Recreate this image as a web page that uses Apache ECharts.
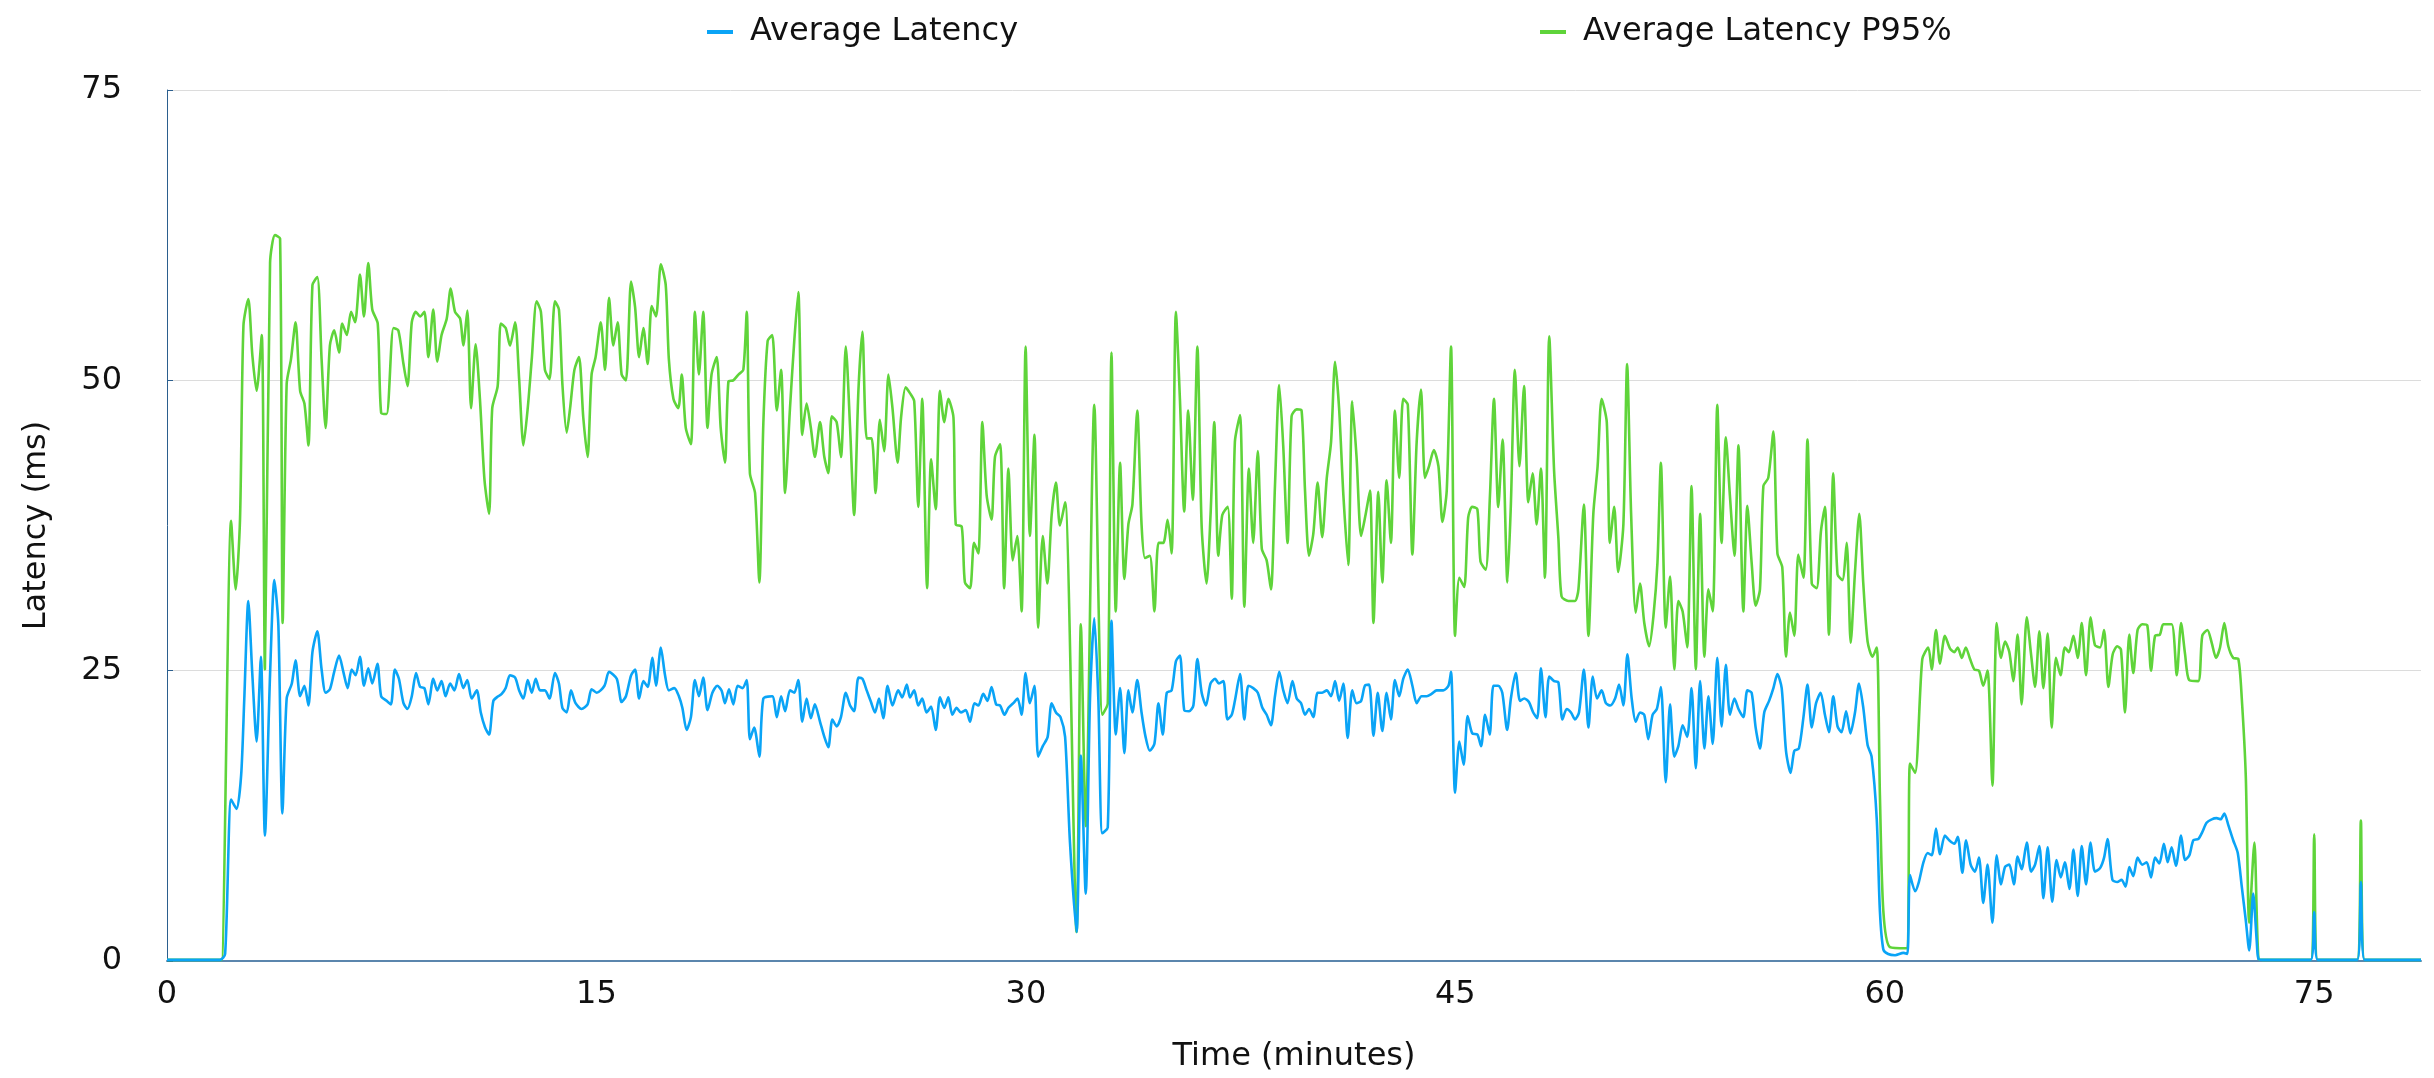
<!DOCTYPE html>
<html>
<head>
<meta charset="utf-8">
<title>Average Latency</title>
<script src="https://cdn.jsdelivr.net/npm/echarts@6/dist/echarts.min.js"></script>
<style>
  html, body { margin: 0; padding: 0; background: #ffffff; }
  #chart { width: 2434px; height: 1078px; }
</style>
</head>
<body>
<div id="chart"></div>
<script>
// Elapsed test time in minutes and latency in milliseconds.
const avgMinutes = [
  0, 1.85, 2.03, 2.24, 2.43, 2.59, 2.70, 2.84, 2.98, 3.13, 3.28, 3.42, 3.60, 3.75, 3.89, 4.03, 4.18, 4.36, 4.49, 4.65,
  4.80, 4.94, 5.08, 5.25, 5.40, 5.54, 5.69, 5.84, 6.01, 6.16, 6.31, 6.45, 6.59, 6.74, 6.88, 7.03, 7.17, 7.35, 7.48, 7.67,
  7.82, 7.96, 8.10, 8.26, 8.40, 8.55, 8.70, 8.84, 8.99, 9.13, 9.30, 9.44, 9.59, 9.73, 9.89, 10.04, 10.20, 10.35, 10.49, 10.64,
  10.82, 10.96, 11.11, 11.25, 11.40, 11.57, 11.69, 11.83, 11.98, 12.16, 12.30, 12.45, 12.60, 12.74, 12.88, 13.03, 13.20, 13.36,
  13.55, 13.69, 13.81, 13.96, 14.11, 14.27, 14.48, 14.69, 14.83, 15.01, 15.28, 15.44, 15.71, 15.88, 16.03, 16.21, 16.35, 16.49,
  16.64, 16.79, 16.95, 17.08, 17.25, 17.39, 17.53, 17.72, 17.88, 18.00, 18.15, 18.30, 18.44, 18.58, 18.73, 18.88, 19.05, 19.22,
  19.37, 19.49, 19.63, 19.78, 19.93, 20.10, 20.25, 20.36, 20.51, 20.69, 20.83, 21.14, 21.30, 21.45, 21.59, 21.76, 21.91, 22.05,
  22.19, 22.34, 22.49, 22.63, 22.81, 22.96, 23.10, 23.24, 23.39, 23.54, 23.71, 23.86, 24.00, 24.15, 24.29, 24.44, 24.59, 24.73,
  24.87, 25.02, 25.17, 25.34,
  25.54, 25.68, 25.84, 25.95, 26.10, 26.24, 26.38, 26.53, 26.69, 26.85, 27.00, 27.15, 27.29, 27.43, 27.58, 27.73, 27.90, 28.05,
  28.20, 28.34, 28.51, 28.66, 28.80, 28.96, 29.10, 29.25, 29.39, 29.56, 29.71, 29.85, 29.99, 30.14, 30.30, 30.43, 30.59, 30.76,
  30.90, 31.05, 31.21, 31.37, 31.54, 31.77, 31.92, 32.09, 32.24, 32.39, 32.53, 32.67, 32.86, 32.99, 33.14, 33.29, 33.44, 33.58,
  33.72, 33.89, 34.04, 34.18, 34.33, 34.49, 34.63, 34.78, 34.92, 35.09, 35.24, 35.38, 35.53, 35.70, 35.85, 35.99, 36.14, 36.29,
  36.45, 36.61, 36.74, 36.90, 37.04, 37.19,
  37.30, 37.48, 37.63, 37.77, 37.94, 38.10, 38.26, 38.41, 38.56, 38.70, 38.85, 38.99, 39.14, 39.31, 39.46, 39.61, 39.75, 39.89,
  40.04, 40.19, 40.35, 40.51, 40.66, 40.80, 40.94, 41.09, 41.24, 41.40, 41.55, 41.71, 41.84, 41.99, 42.14, 42.29, 42.45, 42.60,
  42.75, 42.89, 43.04, 43.18, 43.34, 43.50, 43.65, 43.82, 44.00, 44.17, 44.35, 44.58, 44.76, 44.85, 44.99, 45.14, 45.29, 45.43,
  45.59, 45.77, 45.90, 46.04, 46.20, 46.33, 46.50, 46.64, 46.81, 46.94, 47.11, 47.26, 47.41, 47.57, 47.72, 47.86, 47.99, 48.15,
  48.28, 48.45, 48.60, 48.74, 48.89, 49.04,
  49.18, 49.32, 49.49, 49.65, 49.80, 49.95, 50.11, 50.26, 50.41, 50.58, 50.72, 50.87, 51.01, 51.16, 51.30, 51.45, 51.60, 51.74,
  51.89, 52.04, 52.18, 52.35, 52.50, 52.65, 52.79, 52.94, 53.10, 53.25, 53.40, 53.55, 53.70, 53.84, 53.99, 54.15, 54.30, 54.45,
  54.59, 54.75, 54.89, 55.06, 55.20, 55.35, 55.49, 55.64, 55.79, 55.96, 56.11, 56.25, 56.40, 56.55, 56.71, 56.84, 57.00, 57.16,
  57.30, 57.45, 57.60, 57.76, 57.91, 58.05, 58.20, 58.35, 58.49, 58.65, 58.80, 58.96, 59.10, 59.25, 59.40, 59.54, 59.72, 59.83,
  59.95, 60.12, 60.36, 60.65, 60.79, 60.88, 61.06,
  61.19, 61.35, 61.50, 61.64, 61.79, 61.93, 62.10, 62.25, 62.43, 62.55, 62.71, 62.84, 63.00, 63.15, 63.29, 63.44, 63.59, 63.76,
  63.91, 64.06, 64.20, 64.35, 64.51, 64.64, 64.78, 64.96, 65.11, 65.25, 65.40, 65.54, 65.69, 65.85, 66.00, 66.15, 66.29, 66.45,
  66.59, 66.74, 66.88, 67.03, 67.19, 67.34, 67.52, 67.66, 67.78, 67.95, 68.12, 68.27, 68.41, 68.54, 68.68, 68.83, 68.99, 69.15,
  69.30, 69.44, 69.59, 69.75, 69.88, 70.02, 70.17, 70.35, 70.49, 70.64, 70.78, 70.95, 71.09, 71.24, 71.42, 71.59, 71.73, 71.86,
  72.00, 72.17, 72.33, 72.47, 72.61, 72.73, 72.87, 72.99, 73.05, 73.20,
  74.88, 75.00, 75.12, 76.50, 76.63, 76.76, 78.73
];
const avgLatency = [
  0.1, 0.1, 0.6, 13.9, 13.1, 16.0, 22.6, 31.0, 24.7, 18.9, 26.2, 10.8, 24.7, 32.8, 28.9, 12.7, 22.6, 23.9, 25.9, 22.8,
  23.7, 22.0, 26.6, 28.4, 25.1, 23.1, 23.4, 24.9, 26.3, 24.9, 23.5, 25.1, 24.6, 26.2, 23.7, 25.2, 23.9, 25.6, 22.8, 22.4,
  22.1, 25.1, 24.3, 22.2, 21.7, 22.8, 24.8, 23.6, 23.5, 22.1, 24.3, 23.3, 24.1, 22.8, 23.9, 23.3, 24.7, 23.5, 24.2, 22.6,
  23.3, 21.4, 20.1, 19.5, 22.4, 22.8, 23.0, 23.5, 24.6, 24.4, 23.3, 22.6, 24.2, 23.1, 24.3, 23.3, 23.3, 22.6,
  24.8, 23.9, 21.8, 21.4, 23.3, 22.2, 21.7, 22.1, 23.4, 23.1, 23.7, 24.9, 24.3, 22.3, 22.8, 24.6, 25.1, 22.6,
  24.1, 23.6, 26.1, 23.7, 27.0, 24.7, 23.3, 23.5, 22.8, 21.8, 19.9, 21.0, 24.2, 22.8, 24.4, 21.6, 23.1, 23.7,
  23.3, 22.2, 23.4, 22.1, 23.7, 23.5, 24.2, 19.1, 20.1, 17.6, 22.6, 22.8, 21.0, 22.8, 21.5, 23.3, 23.1, 24.2,
  20.6, 22.6, 20.9, 22.1, 20.6, 19.3, 18.4, 20.8, 20.2, 21.0, 23.1, 22.0, 21.5, 24.4, 24.3, 23.3, 22.3, 21.4,
  22.6, 20.9, 23.7, 22.0,
  23.3, 22.7, 23.8, 22.7, 23.3, 22.0, 22.6, 21.4, 21.9, 19.9, 22.7, 21.8, 22.7, 21.2, 21.8, 21.4, 21.6, 20.6,
  22.2, 22.0, 23.0, 22.4, 23.6, 22.1, 22.0, 21.2, 21.8, 22.2, 22.6, 21.2, 24.8, 22.2, 23.7, 17.6, 18.5, 19.3,
  22.2, 21.4, 21.0, 19.3, 10.2, 2.5, 17.7, 5.8, 22.6, 29.5, 22.6, 11.0, 11.5, 29.3, 19.5, 23.5, 17.9, 23.3,
  21.4, 24.2, 21.4, 19.3, 18.1, 18.7, 22.2, 19.5, 23.1, 23.3, 25.8, 26.3, 21.6, 21.5, 22.0, 26.0, 23.1, 22.0,
  23.9, 24.3, 23.9, 24.1, 20.8, 21.2,
  22.4, 24.7, 20.8, 23.7, 23.5, 23.1, 21.8, 21.2, 20.3, 22.8, 24.9, 23.3, 22.2, 24.1, 22.6, 22.2, 21.2, 21.7,
  21.0, 23.1, 23.1, 23.3, 22.8, 24.1, 22.4, 23.9, 19.2, 23.3, 22.2, 22.4, 23.7, 23.8, 19.4, 23.1, 19.8, 23.1,
  20.8, 24.2, 22.8, 24.3, 25.1, 23.7, 22.2, 22.8, 22.8, 23.0, 23.3, 23.3, 23.7, 24.9, 14.5, 18.9, 16.9, 21.1,
  19.6, 19.5, 18.5, 21.2, 19.5, 23.7, 23.7, 23.1, 19.9, 22.6, 24.8, 22.4, 22.6, 22.3, 21.4, 20.9, 25.2, 21.0,
  24.5, 24.1, 24.0, 20.8, 21.7, 21.4,
  20.8, 21.4, 25.1, 20.1, 24.5, 22.6, 23.3, 22.2, 22.0, 22.6, 23.8, 22.0, 26.4, 22.6, 20.6, 21.4, 21.2, 19.1,
  21.2, 21.7, 23.6, 15.4, 22.1, 17.6, 18.5, 20.3, 19.3, 23.5, 16.6, 24.1, 18.3, 22.8, 18.7, 26.1, 20.2, 25.5,
  21.2, 22.6, 21.7, 21.0, 23.3, 23.1, 20.1, 18.3, 21.4, 22.4, 23.5, 24.7, 23.5, 18.1, 16.2, 18.1, 18.3, 21.0,
  23.8, 20.1, 22.2, 23.1, 21.2, 19.7, 22.8, 20.2, 19.7, 21.5, 19.6, 21.4, 23.9, 21.8, 18.6, 17.6, 12.2, 4.3,
  1.0, 0.6, 0.5, 0.7, 0.6, 7.4, 6.0,
  6.8, 8.5, 9.3, 9.1, 11.4, 9.2, 10.8, 10.4, 10.1, 10.7, 7.6, 10.4, 8.3, 7.7, 8.9, 5.0, 8.3, 3.3,
  9.1, 6.6, 8.1, 8.3, 6.6, 9.0, 7.9, 10.2, 7.7, 8.3, 9.9, 5.4, 9.8, 5.1, 8.7, 7.2, 8.5, 6.2,
  9.6, 5.6, 9.9, 6.6, 10.2, 7.7, 8.0, 8.9, 10.5, 7.0, 6.8, 7.0, 6.4, 8.1, 7.3, 8.9, 8.3, 8.5,
  7.2, 8.9, 8.4, 10.1, 8.5, 9.8, 8.2, 10.8, 8.7, 9.1, 10.4, 10.5, 11.1, 11.9, 12.2, 12.3, 12.2, 12.7,
  11.7, 10.4, 9.3, 6.4, 3.5, 0.9, 5.8, 1.8, 0.2, 0.1,
  0.1, 4.2, 0.1, 0.1, 6.8, 0.1, 0.1
];

const p95Minutes = [
  0, 1.85, 1.91, 2.24, 2.40, 2.55, 2.67, 2.84, 2.98, 3.13, 3.31, 3.42, 3.60, 3.77, 3.95, 4.04, 4.18, 4.33, 4.49, 4.65,
  4.80, 4.94, 5.08, 5.25, 5.40, 5.54, 5.69, 5.84, 6.01, 6.12, 6.28, 6.43, 6.57, 6.74, 6.88, 7.03, 7.17, 7.36, 7.48, 7.67,
  7.91, 8.08, 8.26, 8.40, 8.55, 8.69, 8.84, 8.99, 9.13, 9.30, 9.44, 9.59, 9.77, 9.91, 10.06, 10.24, 10.35, 10.49, 10.62, 10.78,
  10.93, 11.09, 11.25, 11.36, 11.55, 11.66, 11.83, 11.98, 12.16, 12.30, 12.45, 12.60, 12.74, 12.91, 13.06, 13.20, 13.36,
  13.55, 13.69, 13.81, 13.96, 14.08, 14.23, 14.39, 14.54, 14.69, 14.83, 14.97, 15.15, 15.30, 15.44, 15.59, 15.74, 15.88, 16.03,
  16.21, 16.35, 16.49, 16.64, 16.79, 16.93, 17.08, 17.25, 17.42, 17.53, 17.69, 17.86, 17.98, 18.12, 18.30, 18.44, 18.58, 18.73,
  18.88, 19.02, 19.20, 19.34, 19.49, 19.61, 19.78, 19.96, 20.13, 20.25, 20.36, 20.54, 20.69, 20.83, 20.98, 21.14, 21.30, 21.45,
  21.59, 21.76, 21.91, 22.05, 22.19, 22.34, 22.49, 22.63, 22.81, 22.96, 23.10, 23.22, 23.39, 23.54, 23.71, 23.86, 24.00, 24.15,
  24.29, 24.44, 24.61, 24.75, 24.90, 25.05, 25.20, 25.34,
  25.52, 25.64, 25.80, 25.95, 26.10, 26.24, 26.38, 26.55, 26.69, 26.85, 27.00, 27.15, 27.29, 27.47, 27.55, 27.76, 27.87, 28.05,
  28.19, 28.34, 28.48, 28.63, 28.80, 28.92, 29.10, 29.24, 29.39, 29.54, 29.70, 29.85, 29.99, 30.14, 30.30, 30.43, 30.59, 30.75,
  30.90, 31.05, 31.19, 31.37, 31.77, 31.92, 32.09, 32.39, 32.67, 32.86, 32.99, 33.14, 33.29, 33.44, 33.58, 33.72, 33.89, 34.04,
  34.16, 34.33, 34.49, 34.63, 34.80, 34.95, 35.09, 35.24, 35.38, 35.53, 35.67, 35.83, 35.99, 36.14, 36.31, 36.45, 36.58, 36.72,
  36.86, 37.05, 37.19,
  37.30, 37.48, 37.63, 37.79, 37.94, 38.10, 38.24, 38.41, 38.56, 38.70, 38.85, 38.99, 39.14, 39.28, 39.46, 39.63, 39.75, 39.89,
  40.04, 40.19, 40.35, 40.51, 40.66, 40.80, 40.94, 41.09, 41.26, 41.40, 41.55, 41.71, 41.87, 42.02, 42.14, 42.31, 42.45, 42.60,
  42.75, 42.89, 43.04, 43.18, 43.34, 43.50, 43.65, 43.80, 43.94, 44.08, 44.25, 44.41, 44.55, 44.70, 44.85, 44.99, 45.14, 45.31,
  45.45, 45.59, 45.77, 45.88, 46.06, 46.21, 46.35, 46.50, 46.65, 46.82, 46.94, 47.08, 47.24, 47.40, 47.55, 47.70, 47.84, 47.99,
  48.13, 48.28, 48.45, 48.60, 48.71, 48.95,
  49.18, 49.30, 49.49, 49.65, 49.82, 49.97, 50.11, 50.29, 50.40, 50.55, 50.69, 50.87, 51.00, 51.14, 51.30, 51.45, 51.60, 51.77,
  51.92, 52.06, 52.18, 52.35, 52.50, 52.65, 52.79, 52.94, 53.10, 53.25, 53.40, 53.55, 53.70, 53.84, 53.99, 54.15, 54.30, 54.45,
  54.59, 54.75, 54.89, 55.06, 55.20, 55.35, 55.49, 55.64, 55.76, 55.93, 56.11, 56.25, 56.42, 56.55, 56.69, 56.84, 56.98, 57.16,
  57.30, 57.45, 57.62, 57.77, 57.91, 58.05, 58.20, 58.35, 58.52, 58.67, 58.81, 58.96, 59.11, 59.25, 59.40, 59.57, 59.72, 59.83,
  59.95, 60.18, 60.76, 60.88, 61.06,
  61.31, 61.52, 61.64, 61.79, 61.93, 62.10, 62.28, 62.43, 62.55, 62.69, 62.83, 62.98, 63.13, 63.29, 63.44, 63.59, 63.76, 63.91,
  64.06, 64.20, 64.35, 64.49, 64.64, 64.78, 64.96, 65.11, 65.25, 65.40, 65.54, 65.69, 65.83, 65.98, 66.14, 66.29, 66.43, 66.59,
  66.74, 66.88, 67.03, 67.19, 67.34, 67.52, 67.66, 67.81, 67.96, 68.12, 68.25, 68.39, 68.54, 68.68, 68.83, 68.99, 69.17, 69.30,
  69.44, 69.61, 69.73, 70.02, 70.20, 70.35, 70.49, 70.63, 70.95, 71.09, 71.27, 71.42, 71.57, 71.71, 71.86, 72.00, 72.17, 72.35,
  72.47, 72.61, 72.73, 72.91, 73.05, 73.20,
  74.88, 75.00, 75.12, 76.50, 76.63, 76.76, 78.73
];
const p95Latency = [
  0.1, 0.1, 0.1, 37.9, 32.0, 38.0, 54.7, 57.0, 52.2, 49.1, 53.9, 25.1, 60.1, 62.5, 62.2, 29.1, 49.7, 51.8, 55.0, 49.1,
  48.0, 44.4, 58.2, 58.9, 51.8, 45.9, 53.0, 54.3, 52.4, 54.9, 53.9, 55.9, 55.0, 59.1, 55.5, 60.1, 56.1, 54.9, 47.2, 47.1,
  54.5, 54.3, 51.4, 49.5, 55.0, 55.9, 55.5, 55.9, 52.0, 56.1, 51.6, 53.9, 55.3, 57.9, 55.9, 55.3, 53.0, 56.0, 47.6, 53.1,
  48.4, 41.4, 38.5, 47.6, 49.5, 54.9, 54.5, 53.0, 55.0, 50.1, 44.4, 47.6, 51.8, 56.8, 55.9, 50.9, 50.1,
  56.8, 56.1, 49.7, 45.5, 47.6, 50.9, 52.0, 46.8, 43.4, 50.5, 52.0, 55.0, 50.9, 57.1, 53.0, 55.0, 50.5, 50.0,
  58.5, 56.3, 52.0, 54.5, 51.4, 56.4, 55.5, 60.0, 58.2, 51.8, 48.4, 47.6, 50.5, 45.9, 44.5, 55.9, 50.5, 55.9,
  45.9, 50.5, 52.0, 45.9, 42.9, 49.9, 50.0, 50.5, 50.9, 55.9, 42.0, 40.3, 32.6, 46.3, 53.4, 53.9, 47.4, 50.9,
  40.3, 47.6, 53.4, 57.6, 45.3, 48.0, 45.9, 43.4, 46.4, 43.4, 42.0, 46.9, 46.4, 43.4, 52.9, 45.9, 38.4, 49.1,
  54.2, 45.0, 45.0, 40.3, 46.6, 43.9, 50.5, 47.6,
  42.9, 46.8, 49.4, 48.9, 48.2, 39.1, 48.4, 32.1, 43.2, 38.9, 49.1, 46.4, 48.4, 46.8, 37.6, 37.4, 32.6, 32.1,
  36.0, 35.1, 46.4, 40.1, 38.0, 43.4, 44.5, 32.1, 42.4, 34.5, 36.6, 30.1, 52.9, 36.6, 45.3, 28.7, 36.6, 32.5,
  38.4, 41.2, 37.5, 39.5, 2.5, 29.0, 11.6, 47.9, 21.2, 22.2, 52.4, 30.1, 42.9, 32.9, 37.6, 39.3, 47.4, 37.6,
  34.7, 34.9, 30.1, 36.0, 36.0, 38.0, 35.1, 55.9, 48.4, 38.7, 47.4, 39.7, 52.9, 37.4, 32.5, 38.4, 46.4, 34.9,
  38.4, 39.1, 31.2,
  44.7, 47.0, 30.5, 42.4, 36.0, 43.9, 35.5, 34.5, 32.0, 40.9, 49.6, 44.3, 36.0, 46.9, 47.5, 47.4, 40.5, 34.9,
  36.8, 41.2, 36.5, 41.6, 44.7, 51.6, 47.6, 40.1, 34.1, 48.2, 43.4, 36.6, 38.5, 40.5, 29.1, 40.4, 32.6, 41.4,
  36.0, 47.4, 41.6, 48.4, 47.9, 35.0, 44.7, 49.2, 41.6, 42.6, 44.0, 42.6, 37.8, 40.5, 52.9, 28.0, 33.0, 32.2,
  38.2, 39.1, 38.9, 34.4, 33.7, 40.1, 48.4, 39.1, 44.9, 32.6, 39.3, 50.9, 42.6, 49.5, 39.5, 42.0, 37.6, 42.4,
  33.0, 53.8, 42.2, 36.4, 31.4, 31.0,
  31.0, 32.0, 39.3, 28.0, 38.5, 42.6, 48.4, 46.4, 36.0, 39.1, 33.5, 37.6, 51.4, 38.5, 30.0, 32.5, 29.1, 27.1,
  29.7, 34.3, 42.9, 28.7, 33.1, 25.1, 31.0, 30.1, 27.0, 40.9, 25.1, 38.5, 26.2, 32.0, 30.1, 47.9, 36.0, 45.1,
  40.1, 34.9, 44.4, 30.1, 39.2, 34.3, 30.6, 32.0, 40.9, 41.6, 45.6, 35.1, 33.9, 26.2, 30.0, 28.0, 35.0, 33.0,
  44.9, 32.5, 32.1, 37.0, 39.1, 28.1, 42.0, 33.3, 32.8, 36.0, 27.4, 33.5, 38.5, 32.5, 27.5, 26.2, 27.0, 14.3,
  4.3, 1.2, 1.1, 17.0, 16.2,
  26.0, 27.0, 25.1, 28.5, 25.6, 28.0, 26.9, 26.6, 27.0, 26.1, 27.0, 26.0, 25.1, 25.0, 23.7, 25.0, 15.1, 29.1,
  26.1, 27.5, 26.6, 24.1, 28.1, 22.1, 29.6, 26.4, 23.6, 28.4, 23.5, 28.2, 20.1, 26.1, 24.6, 27.0, 26.6, 28.0,
  26.1, 29.1, 24.6, 29.6, 27.2, 27.0, 28.5, 23.6, 26.4, 27.1, 26.8, 21.4, 28.1, 24.8, 28.5, 29.0, 28.9, 25.0,
  28.0, 28.1, 29.0, 29.0, 24.6, 29.1, 26.4, 24.2, 24.1, 28.0, 28.5, 27.4, 26.1, 27.0, 29.1, 27.1, 26.1, 26.0,
  22.6, 15.9, 3.3, 10.2, 0.2, 0.1,
  0.1, 10.9, 0.1, 0.1, 12.1, 0.1, 0.1
];

const seriesNames = ['Average Latency', 'Average Latency P95%'];
const yTicks = [0, 25, 50, 75];
const xTickStep = 15;

const avgColor = '#0aa4f6';
const p95Color = '#5fd43a';
const font = '"DejaVu Sans", "Noto Sans", sans-serif';

const pairs = (xs, ys) => xs.map((x, i) => [x, ys[i]]);
const lastMinute = avgMinutes[avgMinutes.length - 1];

const chart = echarts.init(document.getElementById('chart'), null, { renderer: 'canvas' });

const legendBase = {
  top: 11,
  icon: 'rect',
  itemWidth: 26,
  itemHeight: 4,
  selectedMode: false,
  textStyle: { fontFamily: font, fontSize: 32, color: '#111', padding: [0, 0, 0, 12] }
};

chart.setOption({
  animation: false,
  backgroundColor: '#ffffff',
  legend: [
    Object.assign({}, legendBase, { left: 702, data: [seriesNames[0]] }),
    Object.assign({}, legendBase, { left: 1535, data: [seriesNames[1]] })
  ],
  grid: { left: 167, right: 13, top: 90, bottom: 116, containLabel: false },
  xAxis: {
    type: 'value',
    min: 0,
    max: lastMinute,
    interval: xTickStep,
    name: 'Time (minutes)',
    nameLocation: 'middle',
    nameGap: 80,
    nameTextStyle: { fontFamily: font, fontSize: 32, color: '#111' },
    axisLine: { show: true, onZero: false, lineStyle: { color: '#5b86ad', width: 2 } },
    axisTick: { show: false },
    splitLine: { show: false },
    axisLabel: {
      fontFamily: font, fontSize: 32, color: '#111', margin: 18,
      formatter: v => (v % xTickStep === 0 ? String(v) : '')
    }
  },
  yAxis: {
    type: 'value',
    min: yTicks[0],
    max: yTicks[yTicks.length - 1],
    interval: yTicks[1] - yTicks[0],
    name: 'Latency (ms)',
    nameLocation: 'middle',
    nameGap: 114,
    nameTextStyle: { fontFamily: font, fontSize: 32, color: '#111' },
    axisLine: { show: true, lineStyle: { color: '#2b5f8e', width: 1 } },
    axisTick: { show: true, inside: true, length: 6, lineStyle: { color: '#2b5f8e' } },
    splitLine: { show: true, lineStyle: { color: '#dcdcdc', width: 1 } },
    axisLabel: { fontFamily: font, fontSize: 32, color: '#111', margin: 45 }
  },
  series: [
    {
      name: seriesNames[1],
      type: 'line',
      data: pairs(p95Minutes, p95Latency),
      showSymbol: false,
      smooth: 0.25,
      lineStyle: { color: p95Color, width: 2.6 },
      itemStyle: { color: p95Color },
      z: 2
    },
    {
      name: seriesNames[0],
      type: 'line',
      data: pairs(avgMinutes, avgLatency),
      showSymbol: false,
      smooth: 0.25,
      lineStyle: { color: avgColor, width: 2.6 },
      itemStyle: { color: avgColor },
      z: 3
    }
  ]
});
</script>
</body>
</html>
